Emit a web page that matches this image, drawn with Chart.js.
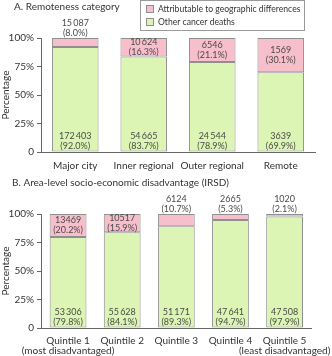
<!DOCTYPE html>
<html>
<head>
<meta charset="utf-8">
<script src="https://cdn.jsdelivr.net/npm/chart.js@4.4.1/dist/chart.umd.min.js"></script>
<style>
  body { margin: 0; background: #fff; }
  #wrap { position: relative; width: 332px; height: 356px; }
  #chartA { position: absolute; left: 0; top: 0; }
  #chartB { position: absolute; left: 0; top: 175px; }
</style>
</head>
<body>
<div id="wrap">
  <canvas id="chartA" width="332" height="175"></canvas>
  <canvas id="chartB" width="332" height="181"></canvas>
</div>
<script>
// Panel A: remoteness category
const remotenessLabels = ['Major city', 'Inner regional', 'Outer regional', 'Remote'];
const remotenessOtherPct = [92.0, 83.7, 78.9, 69.9];
const remotenessOtherN = [172403, 54665, 24544, 3639];
const remotenessAttribPct = [8.0, 16.3, 21.1, 30.1];
const remotenessAttribN = [15087, 10624, 6546, 1569];

// Panel B: IRSD quintile
const irsdLabels = [['Quintile 1', '(most disadvantaged)'], 'Quintile 2', 'Quintile 3', 'Quintile 4', ['Quintile 5', '(least disadvantaged)']];
const irsdOtherPct = [79.8, 84.1, 89.3, 94.7, 97.9];
const irsdOtherN = [53306, 55628, 51171, 47641, 47508];
const irsdAttribPct = [20.2, 15.9, 10.7, 5.3, 2.1];
const irsdAttribN = [13469, 10517, 6124, 2665, 1020];

const yTicks = [0, 25, 50, 75, 100];

const PINK = '#f7bfcb';
const GREEN = '#dcf5b4';
const EDGE = '#8f8f8f';
const TEXT = '#4a4a4a';
const FONT = 'Lato';

function fmtN(n, spaced) {
    const s = String(n);
    if (!spaced || s.length < 5) return s;
    return s.slice(0, s.length - 3) + '\u2009' + s.slice(s.length - 3);
}

// writes the count and percentage on each segment
const segmentLabels = {
    id: 'segmentLabels',
    afterDatasetsDraw(chart, args, opts) {
        const ctx = chart.ctx;
        const y = chart.scales.y;
        ctx.save();
        ctx.font = '9px ' + FONT;
        ctx.fillStyle = TEXT;
        ctx.textAlign = 'center';
        ctx.textBaseline = 'middle';
        const other = chart.getDatasetMeta(0);
        const attrib = chart.getDatasetMeta(1);
        other.data.forEach((bar, i) => {
            ctx.fillText(fmtN(opts.otherN[i], true), bar.x, y.getPixelForValue(0) - 16);
            ctx.fillText('(' + opts.otherPct[i].toFixed(1) + '%)', bar.x, y.getPixelForValue(0) - 6);
        });
        attrib.data.forEach((bar, i) => {
            const pct = opts.attribPct[i];
            const top = y.getPixelForValue(100);
            const bottom = y.getPixelForValue(100 - pct);
            let cy = pct >= 15 ? (top + bottom) / 2 : top - 10;
            ctx.fillText(fmtN(opts.attribN[i], opts.spaceAttrib), bar.x, cy - 5);
            ctx.fillText('(' + pct.toFixed(1) + '%)', bar.x, cy + 5);
        });
        ctx.restore();
    }
};

// panel heading plus boxed legend
const panelHeader = {
    id: 'panelHeader',
    afterDraw(chart, args, opts) {
        const ctx = chart.ctx;
        ctx.save();
        ctx.font = '10px ' + FONT;
        ctx.fillStyle = '#333';
        ctx.textBaseline = 'middle';
        ctx.textAlign = 'left';
        ctx.fillText(opts.title, opts.titleX, opts.titleY);
        if (opts.legend) {
            ctx.strokeStyle = '#999';
            ctx.lineWidth = 1;
            ctx.strokeRect(140.5, 0.5, 164, 30);
            const items = [[PINK, 'Attributable to geographic differences'], [GREEN, 'Other cancer deaths']];
            items.forEach((it, k) => {
                const iy = 9 + k * 13;
                ctx.fillStyle = it[0];
                ctx.fillRect(146, iy - 4, 8, 8);
                ctx.strokeStyle = EDGE;
                ctx.strokeRect(146.5, iy - 3.5, 7, 7);
                ctx.fillStyle = '#333';
                ctx.font = '8.6px ' + FONT;
                ctx.fillText(it[1], 158, iy + 0.5);
            });
        }
        ctx.restore();
    }
};

function makePanel(id, labels, otherPct, attribPct, otherN, attribN, spaceAttrib, pad, xHeight, lineH, header) {
    return new Chart(document.getElementById(id), {
        type: 'bar',
        data: {
            labels: labels,
            datasets: [
                {
                    label: 'Other cancer deaths',
                    data: otherPct,
                    backgroundColor: GREEN,
                    borderColor: EDGE,
                    borderWidth: 1,
                    borderSkipped: false,
                    categoryPercentage: 1,
                    barPercentage: 0.68
                },
                {
                    label: 'Attributable to geographic differences',
                    data: attribPct,
                    backgroundColor: PINK,
                    borderColor: EDGE,
                    borderWidth: 1,
                    borderSkipped: false,
                    categoryPercentage: 1,
                    barPercentage: 0.68
                }
            ]
        },
        options: {
            responsive: false,
            animation: false,
            layout: { padding: pad },
            plugins: {
                legend: { display: false },
                tooltip: { enabled: false },
                segmentLabels: { otherN: otherN, otherPct: otherPct, attribN: attribN, attribPct: attribPct, spaceAttrib: spaceAttrib },
                panelHeader: header
            },
            scales: {
                x: {
                    stacked: true,
                    grid: { display: false },
                    border: { display: true, color: '#666', width: 1 },
                    ticks: { color: '#333', font: { family: FONT, size: 10, lineHeight: lineH }, padding: 0, maxRotation: 0, autoSkip: false },
                    afterFit: s => { s.height = xHeight; }
                },
                y: {
                    stacked: true,
                    min: 0,
                    max: 100,
                    afterBuildTicks: s => { s.ticks = yTicks.map(v => ({ value: v })); },
                    grid: { display: true, drawOnChartArea: false, drawTicks: true, tickLength: 4, color: '#666' },
                    border: { display: true, color: '#666', width: 1 },
                    ticks: {
                        color: '#333',
                        font: { family: FONT, size: 10 },
                        padding: 3,
                        callback: v => v === 0 ? '0' : v + '%'
                    },
                    title: { display: true, text: 'Percentage', color: '#333', font: { family: FONT, size: 10 }, padding: 0 },
                    afterFit: s => { s.width = 41; }
                }
            }
        },
        plugins: [segmentLabels, panelHeader]
    });
}

makePanel('chartA', remotenessLabels, remotenessOtherPct, remotenessAttribPct, remotenessOtherN, remotenessAttribN, true,
    { top: 38, bottom: 0, left: 0, right: 17 }, 23, 1.1,
    { title: 'A. Remoteness category', titleX: 14, titleY: 7, legend: true });

makePanel('chartB', irsdLabels, irsdOtherPct, irsdAttribPct, irsdOtherN, irsdAttribN, false,
    { top: 39, bottom: 0, left: 0, right: 17 }, 28, 1.0,
    { title: 'B. Area-level socio-economic disadvantage (IRSD)', titleX: 12, titleY: 8, legend: false });
</script>
</body>
</html>
